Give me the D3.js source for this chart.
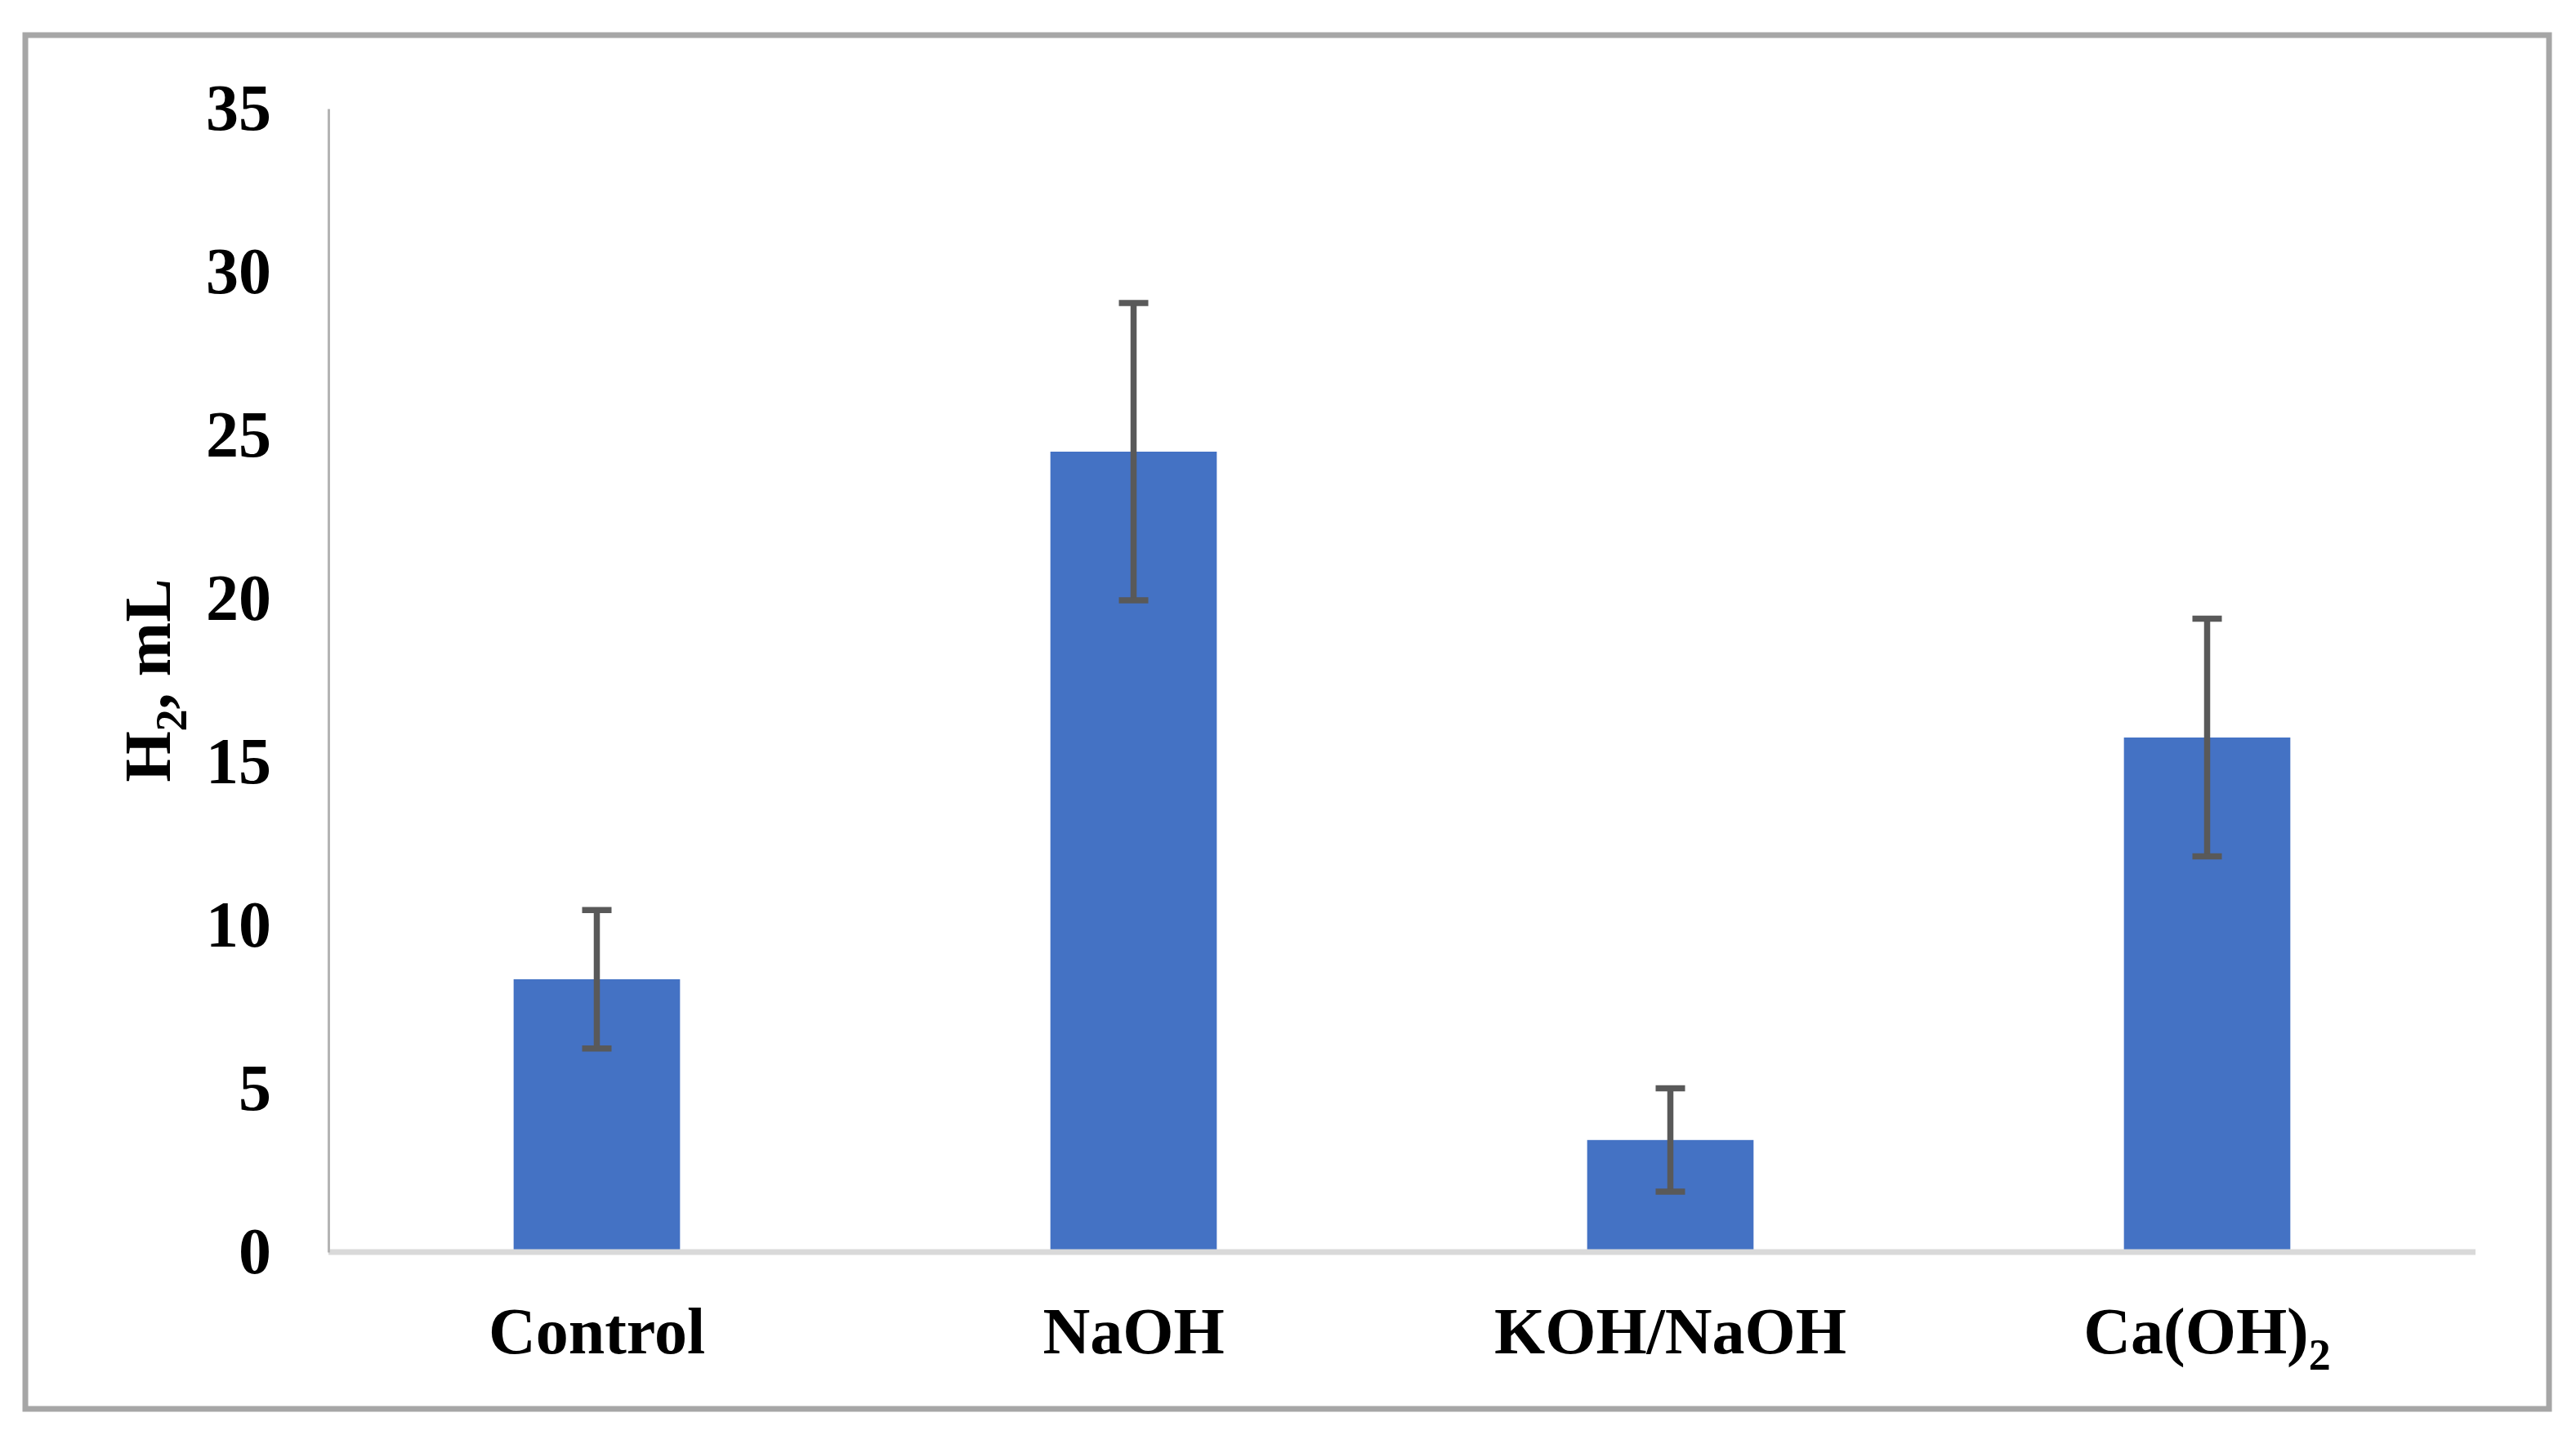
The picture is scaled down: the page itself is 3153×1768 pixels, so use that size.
<!DOCTYPE html>
<html>
<head>
<meta charset="utf-8">
<script src="https://cdn.jsdelivr.net/npm/d3@7"></script>
<style>
  html, body { margin: 0; padding: 0; background: #ffffff; }
  svg { display: block; }
  text { font-family: "Liberation Serif", "Times New Roman", serif; font-weight: bold; fill: #000; }
</style>
</head>
<body>
<script>
// ---- data ----
const categories = ["Control", "NaOH", "KOH/NaOH", "Ca(OH)2"];
const means = [8.35, 24.5, 3.43, 15.75];
const errors = [2.12, 4.55, 1.58, 3.64];
const yTicks = [0, 5, 10, 15, 20, 25, 30, 35];
const yTitle = { main: "H", sub: "2", rest: ", mL" };

// ---- layout ----
const W = 3153, H = 1768;
const plot = { left: 402, right: 3030, top: 133, bottom: 1533 };

const svg = d3.select("body").append("svg")
  .attr("width", W).attr("height", H);

svg.append("rect").attr("x", 0).attr("y", 0).attr("width", W).attr("height", H).attr("fill", "#fff");

// outer frame
svg.append("rect")
  .attr("x", 31).attr("y", 43).attr("width", 3089).attr("height", 1682)
  .attr("fill", "none").attr("stroke", "#a6a6a6").attr("stroke-width", 7);

const x = d3.scaleBand().domain(categories)
  .range([plot.left, plot.right]).paddingInner(0.69).paddingOuter(0.345);
const y = d3.scaleLinear().domain([0, 35]).range([plot.bottom, plot.top]);

// bars
svg.append("g").selectAll("rect").data(categories).join("rect")
  .attr("x", d => x(d))
  .attr("y", (d, i) => y(means[i]))
  .attr("width", x.bandwidth())
  .attr("height", (d, i) => y(0) - y(means[i]))
  .attr("fill", "#4472c4");

// x axis
const xAxis = svg.append("g")
  .attr("transform", `translate(0,${plot.bottom})`)
  .call(d3.axisBottom(x).tickSize(0).tickSizeOuter(0).tickPadding(67));
xAxis.select(".domain").attr("stroke", "#d9d9d9").attr("stroke-width", 7)
  .attr("d", `M${plot.left},0H${plot.right}`);
xAxis.selectAll(".tick text")
  .attr("font-size", 80)
  .attr("font-family", "Liberation Serif")
  .attr("font-weight", "bold")
  .attr("fill", "#000")
  .each(function(d) {
    const t = d3.select(this);
    const m = d.match(/^(.*\))(\d)$/);
    if (m) {
      t.text(null);
      t.append("tspan").text(m[1]);
      t.append("tspan").text(m[2]).attr("font-size", 54).attr("dy", 20);
    }
  });

// y axis
const yAxis = svg.append("g")
  .attr("transform", `translate(${plot.left},0)`)
  .call(d3.axisLeft(y).tickValues(yTicks).tickSize(0).tickSizeOuter(0).tickPadding(70));
yAxis.select(".domain").attr("stroke", "#b4b4b4").attr("stroke-width", 3);
yAxis.selectAll(".tick text")
  .attr("font-size", 80)
  .attr("font-family", "Liberation Serif")
  .attr("font-weight", "bold")
  .attr("fill", "#000");

// error bars
const eb = svg.append("g").attr("stroke", "#595959").attr("stroke-width", 7.5).attr("fill", "none");
const cx = d => x(d) + x.bandwidth() / 2;
const capW = 36;
eb.selectAll("line.v").data(categories).join("line").attr("class", "v")
  .attr("x1", cx).attr("x2", cx)
  .attr("y1", (d, i) => y(means[i] + errors[i]))
  .attr("y2", (d, i) => y(means[i] - errors[i]));
eb.selectAll("line.t").data(categories).join("line").attr("class", "t")
  .attr("x1", d => cx(d) - capW / 2).attr("x2", d => cx(d) + capW / 2)
  .attr("y1", (d, i) => y(means[i] + errors[i]))
  .attr("y2", (d, i) => y(means[i] + errors[i]));
eb.selectAll("line.b").data(categories).join("line").attr("class", "b")
  .attr("x1", d => cx(d) - capW / 2).attr("x2", d => cx(d) + capW / 2)
  .attr("y1", (d, i) => y(means[i] - errors[i]))
  .attr("y2", (d, i) => y(means[i] - errors[i]));

// y title
const yt = svg.append("text")
  .attr("transform", `translate(208,${(plot.top + plot.bottom) / 2}) rotate(-90)`)
  .attr("text-anchor", "middle")
  .attr("font-size", 80);
yt.append("tspan").text(yTitle.main);
yt.append("tspan").text(yTitle.sub).attr("font-size", 54).attr("dy", 20);
yt.append("tspan").text(yTitle.rest).attr("dy", -20);
</script>
</body>
</html>
